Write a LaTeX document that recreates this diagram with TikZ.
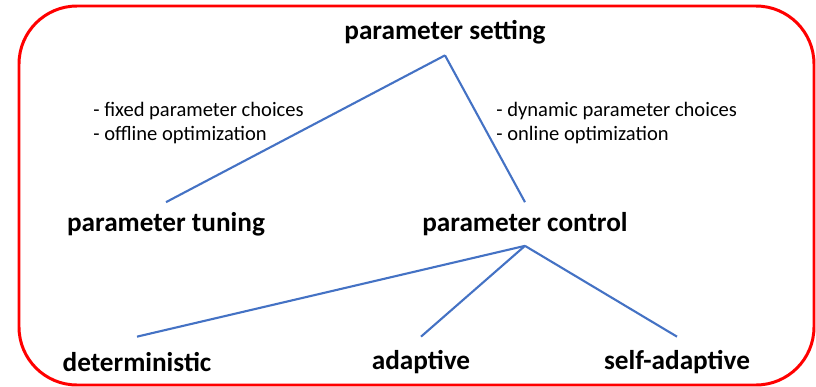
\documentclass[tikz,border=0pt]{standalone}
\usepackage{fontspec}
\setmainfont{Carlito}
\definecolor{branchblue}{RGB}{68,114,196}
\newcommand{\termfont}{\fontsize{15.5}{18}\selectfont\bfseries}
\newcommand{\notefont}{\fontsize{11.7}{14.2}\selectfont}
\tikzset{
  term/.style={font=\termfont, inner sep=0pt, minimum height=0.86cm},
  leaf/.style={term, minimum height=1cm},
  note/.style={font=\notefont, align=left, anchor=west, inner sep=0pt},
  branch/.style={draw=branchblue, line width=1.2pt},
}
\begin{document}
\begin{tikzpicture}[x=0.02cm,y=-0.02cm]
    \useasboundingbox (0,0) rectangle (816,386);
    \draw[red, line width=1.7pt, rounded corners=1.16cm] (19,6) rectangle (814,385);
    \node[term, minimum height=0.92cm] (setting) at (445,32) {parameter setting};
    \node[term] (tuning)  at (166,224) {parameter tuning};
    \node[term] (control) at (525,224) {parameter control};
    \node[leaf] (determ)  at (137,362) {deterministic};
    \node[leaf] (adapt)   at (421,362) {adaptive};
    \node[leaf] (selfad)  at (677,362) {self-adaptive};
    \node[note] (offnote) at (93,123)  {- fixed parameter choices\\- offline optimization};
    \node[note] (onnote)  at (496,123) {- dynamic parameter choices\\- online optimization};
    \draw[branch] (setting.south) -- (tuning.north);
    \draw[branch] (setting.south) -- (control.north);
    \draw[branch] (control.south) -- (determ.north);
    \draw[branch] (control.south) -- (adapt.north);
    \draw[branch] (control.south) -- (selfad.north);
\end{tikzpicture}
\end{document}
